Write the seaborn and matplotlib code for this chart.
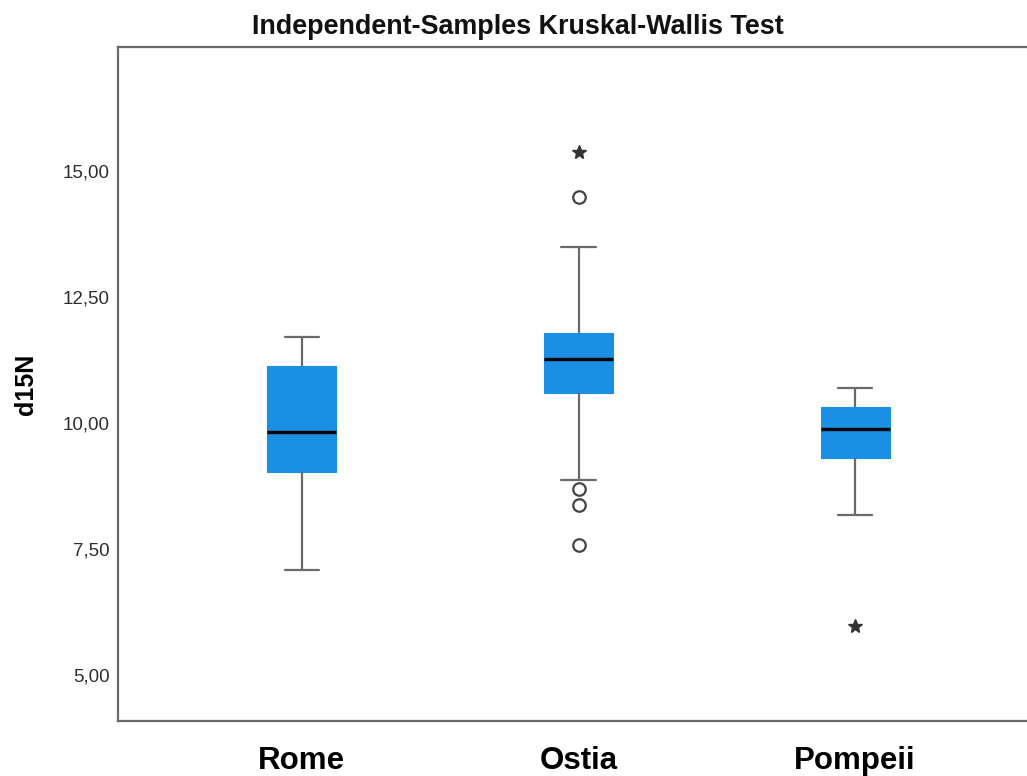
import numpy as np
import pandas as pd
import seaborn as sns
import matplotlib.pyplot as plt
from matplotlib.ticker import FixedLocator, FuncFormatter

# Site groups and five-number summaries of d15N
sites = ["Rome", "Ostia", "Pompeii"]
whisker_low = [7.08, 8.88, 8.17]
q1 = [9.03, 10.59, 9.30]
median = [9.83, 11.28, 9.88]
q3 = [11.13, 11.78, 10.32]
whisker_high = [11.70, 13.49, 10.69]

# Outliers (circles) and extreme values (stars)
outlier_sites = ["Ostia", "Ostia", "Ostia", "Ostia"]
outlier_values = [14.49, 8.69, 8.37, 7.58]
extreme_sites = ["Ostia", "Pompeii"]
extreme_values = [15.38, 5.97]

y_ticks = [5.0, 7.5, 10.0, 12.5, 15.0]

sns.set_theme(style="white")
plt.rcParams["font.family"] = ["Liberation Sans", "DejaVu Sans"]

box_blue = "#1a8fe3"
line_grey = "#6a6a6a"

rows = []
for i, s in enumerate(sites):
    for v in (whisker_low[i], q1[i], median[i], q3[i], whisker_high[i]):
        rows.append({"site": s, "d15N": v})
df = pd.DataFrame(rows)

fig = plt.figure(figsize=(10.27, 7.76), dpi=100)
ax = fig.add_axes([118 / 1027, 55 / 776, (1039 - 118) / 1027, (721 - 47) / 776])

sns.boxplot(
    data=df, x="site", y="d15N", order=sites, ax=ax,
    whis=(0, 100), width=0.25, showfliers=False,
    color=box_blue, linecolor=line_grey, linewidth=1.6,
    boxprops=dict(facecolor=box_blue, edgecolor=box_blue, linewidth=0.8),
    medianprops=dict(color="black", linewidth=2.4),
    whiskerprops=dict(color=line_grey, linewidth=1.6),
    capprops=dict(color=line_grey, linewidth=1.6),
)

pos = {s: i for i, s in enumerate(sites)}
ax.plot([pos[s] for s in outlier_sites], outlier_values, linestyle="none",
        marker="o", markersize=9, markerfacecolor="white",
        markeredgecolor="#444444", markeredgewidth=1.6, zorder=5)
ax.plot([pos[s] for s in extreme_sites], extreme_values, linestyle="none",
        marker="*", markersize=10, color="#333333", zorder=5)

ax.set_xlim(-0.665, 2.665)
ax.set_ylim(4.09, 17.46)
ax.yaxis.set_major_locator(FixedLocator(y_ticks))
ax.yaxis.set_major_formatter(FuncFormatter(lambda v, p: f"{v:.2f}".replace(".", ",")))

ax.tick_params(axis="y", length=0, pad=6, labelsize=13.5, labelcolor="#2e2e2e")
ax.tick_params(axis="x", length=0, pad=18, labelsize=22.5)
for lab in ax.get_xticklabels():
    lab.set_fontweight("bold")
    lab.set_color("black")

ax.set_xlabel("")
ax.set_ylabel("d15N", fontsize=18, fontweight="bold", labelpad=18, color="black")

for side in ("left", "top", "bottom", "right"):
    ax.spines[side].set_color(line_grey)
    ax.spines[side].set_linewidth(1.6)

fig.text(518 / 1027, 1 - 27 / 776, "Independent-Samples Kruskal-Wallis Test",
         ha="center", va="center", fontsize=19.4, fontweight="bold", color="#111111")

fig.savefig("out.png", dpi=100, facecolor="white")
